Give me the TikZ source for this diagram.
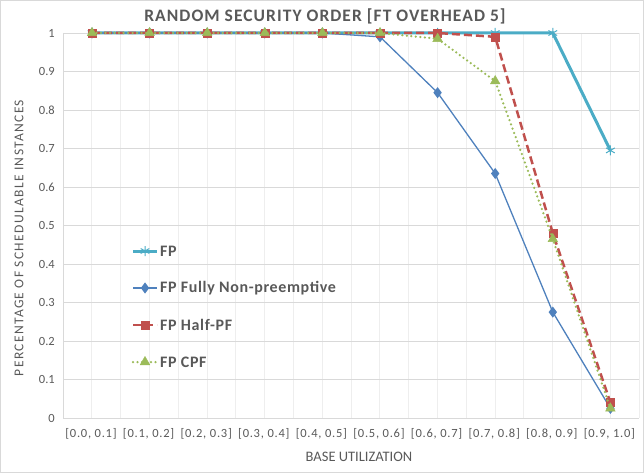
\documentclass[tikz,border=0pt]{standalone}
\usepackage{fontspec}
\setmainfont{Carlito}
\usetikzlibrary{plotmarks}
\definecolor{txt}{HTML}{595959}
\definecolor{gridh}{HTML}{D9D9D9}
\definecolor{gridv}{HTML}{EEEEEE}
\definecolor{framec}{HTML}{D9D9D9}
\definecolor{cfp}{HTML}{4BACC6}
\definecolor{cfn}{HTML}{4F81BD}
\definecolor{chp}{HTML}{C0504D}
\definecolor{ccp}{HTML}{9BBB59}
\tikzset{
  ticklab/.style={text=txt,font=\fontsize{12.5}{14}\selectfont,inner sep=0pt},
  catlab/.style={text=txt,font=\fontsize{12.5}{14}\selectfont\addfontfeatures{LetterSpace=6},inner sep=0pt},
  legtext/.style={text=txt,font=\fontsize{16}{18}\selectfont\bfseries\addfontfeatures{LetterSpace=4},anchor=west,inner sep=0pt},
  sfp/.style={cfp,line width=3pt,mark=asterisk,mark size=5pt,mark options={solid,line width=1pt}},
  sfn/.style={cfn,line width=1.3pt,mark=diamond*,mark size=4.5pt,mark options={solid}},
  shp/.style={chp,line width=2.5pt,dash pattern=on 8pt off 4pt,mark=square*,mark size=4pt,mark options={solid,line width=0.5pt}},
  scp/.style={ccp,line width=2.5pt,line cap=round,dash pattern=on 0pt off 4.5pt,mark=triangle*,mark size=5.5pt,mark options={solid,line width=0.5pt}},
}
\begin{document}
\begin{tikzpicture}[x=1pt,y=-1pt]
\useasboundingbox (0,0) rectangle (644,473);
\draw[framec] (0.5,0.5) rectangle (643.5,472.5);
% vertical grid
\foreach \k in {1,...,20} \draw[gridv,line width=0.8pt] ({63+28.8*\k},33) -- ({63+28.8*\k},418);
% horizontal grid
\foreach \v in {1,...,10} \draw[gridh,line width=0.8pt] (63,{418-38.5*\v}) -- (639,{418-38.5*\v});
\draw[gridh,line width=0.8pt] (63,33) -- (63,418);
\draw[gridh,line width=1pt] (63,418) -- (639,418);
% y tick labels
\node[ticklab,anchor=east] (y0) at (55,418) {0};
\foreach \v/\l in {1/0.1,2/0.2,3/0.3,4/0.4,5/0.5,6/0.6,7/0.7,8/0.8,9/0.9,10/1}
  \node[ticklab,anchor=east] (y\v) at (55,{418-38.5*\v}) {\l};
% x labels
\foreach \i/\l in {0/{[0.0, 0.1]},1/{[0.1, 0.2]},2/{[0.2, 0.3]},3/{[0.3, 0.4]},4/{[0.4, 0.5]},5/{[0.5, 0.6]},6/{[0.6, 0.7]},7/{[0.7, 0.8]},8/{[0.8, 0.9]},9/{[0.9, 1.0]}}
  \node[catlab] (x\i) at ({91+57.6*\i},434) {\l};
% titles
\node[text=txt,inner sep=0pt,font=\fontsize{17.5}{20}\selectfont\bfseries\addfontfeatures{LetterSpace=6}] (title) at (325,16) {RANDOM SECURITY ORDER [FT OVERHEAD 5]};
\node[text=txt,inner sep=0pt,font=\fontsize{14.5}{16}\selectfont] (xtitle) at (359,457) {BASE UTILIZATION};
\node[text=txt,inner sep=0pt,font=\fontsize{13.5}{16}\selectfont\addfontfeatures{LetterSpace=10},rotate=90] (ytitle) at (19,238) {PERCENTAGE OF SCHEDULABLE INSTANCES};
% data
\begin{scope}[shift={(92,418)},x=57.6pt,y=385pt]
\draw[sfp] plot coordinates {(0,1) (1,1) (2,1) (3,1) (4,1) (5,1) (6,1) (7,1) (8,1) (9,0.695)};
\draw[sfn] plot coordinates {(0,1) (1,1) (2,1) (3,1) (4,1) (5,0.99) (6,0.845) (7,0.635) (8,0.275) (9,0.025)};
\draw[shp] plot coordinates {(0,1) (1,1) (2,1) (3,1) (4,1) (5,1) (6,1) (7,0.99) (8,0.48) (9,0.04)};
\draw[scp] plot coordinates {(0,1) (1,1) (2,1) (3,1) (4,1) (5,1) (6,0.985) (7,0.875) (8,0.465) (9,0.025)};
\end{scope}
% legend
\coordinate (l1a) at (133,251); \coordinate (l1b) at (157,251); \coordinate (l1m) at (145,251);
\coordinate (l2a) at (133,288); \coordinate (l2b) at (157,288); \coordinate (l2m) at (145,288);
\coordinate (l3a) at (133,325); \coordinate (l3b) at (157,325); \coordinate (l3m) at (145,325);
\coordinate (l4a) at (133,362); \coordinate (l4b) at (157,362); \coordinate (l4m) at (145,362);
\draw[sfp] (l1a) -- (l1b); \draw[sfp] plot[only marks] coordinates {(l1m)};
\draw[sfn] (l2a) -- (l2b); \draw[sfn] plot[only marks] coordinates {(l2m)};
\draw[shp] (l3a) -- (l3b); \draw[shp] plot[only marks] coordinates {(l3m)};
\draw[scp] (l4a) -- (l4b); \draw[scp] plot[only marks] coordinates {(l4m)};
\node[legtext] (t1) at (160,251) {FP};
\node[legtext] (t2) at (160,288) {FP Fully Non-preemptive};
\node[legtext] (t3) at (160,325) {FP Half-PF};
\node[legtext] (t4) at (160,362) {FP CPF};
\end{tikzpicture}
\end{document}
